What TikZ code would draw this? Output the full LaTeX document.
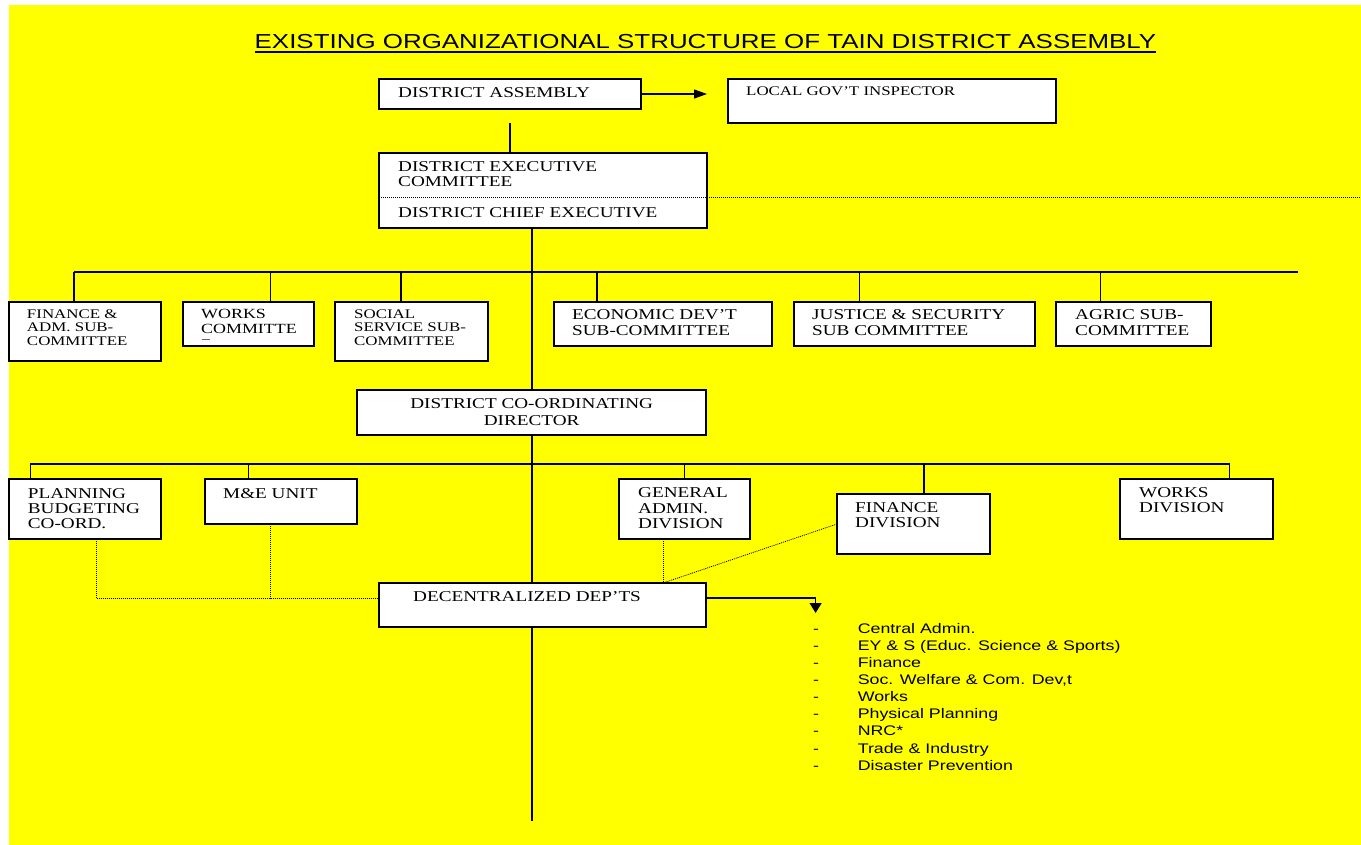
\documentclass[tikz,border=0pt]{standalone}
\usepackage{fontspec}
\setmainfont{Liberation Serif}[FakeStretch=1.28]
\newfontfamily\sansf{Liberation Sans}[FakeStretch=1.28]
\usetikzlibrary{arrows.meta,calc}
\definecolor{bgy}{RGB}{255,255,0}
\newcommand\mybox[5]{\node[box, minimum width={#4pt-#2pt}, minimum height={#5pt-#3pt}] (#1) at (#2,#3) {};}
\begin{document}
\begin{tikzpicture}[x=1pt,y=-1pt,
  box/.style={draw, fill=white, line width=1.3pt, inner sep=0pt, outer sep=0pt, anchor=north west},
  lbl/.style={anchor=base west, inner sep=0pt, align=left},
  big/.style={font=\fontsize{15}{15}\selectfont},
  small/.style={font=\fontsize{13.2}{13.5}\selectfont},
  conn/.style={line width=1.2pt},
  dots/.style={line width=0.8pt, dash pattern=on 1pt off 1pt},
  tipH/.style={-{Triangle[length=13pt,width=9pt]}},
  tipV/.style={-{Triangle[length=10pt,width=12pt]}}]
\useasboundingbox (0,0) rectangle (1361,845);
\fill[bgy] (8.5,5) rectangle (1361,845);
% title
\node[lbl, font=\sansf\fontsize{20.25}{20}\selectfont] (title) at (254.5,49) {EXISTING ORGANIZATIONAL STRUCTURE OF TAIN DISTRICT ASSEMBLY};
\draw[line width=1.3pt] ([yshift=-3pt]title.base west) -- ([yshift=-3pt]title.base east);
% coordinates
\coordinate (trkA) at (532,228);
\coordinate (trkB) at (532,821);
\coordinate (daL) at (510,123);
\coordinate (lgiA) at (707,94);
\coordinate (bus1L) at (74,272);
\coordinate (bus1R) at (1298,272);
\coordinate (bus2L) at (30.4,464);
\coordinate (bus2R) at (1229.5,464);
% main trunk and buses (behind boxes)
\draw[conn] (trkA) -- (trkB);
\draw[conn] (bus1L) -- (bus1R);
\draw[conn] (bus2L) -- (bus2R);
% boxes
\mybox{da}{379}{79}{641}{109}
\mybox{lgi}{728}{79}{1056}{123}
\mybox{dec}{379}{153}{707}{228}
\mybox{fin}{9}{302}{161}{361}
\mybox{wrk}{183}{302}{314}{346}
\mybox{soc}{335}{302}{488}{361}
\mybox{eco}{554}{302}{772}{346}
\mybox{jus}{794}{302}{1035}{346}
\mybox{agr}{1056}{302}{1211}{346}
\mybox{dcd}{357}{390}{706}{435}
\mybox{pln}{9}{479}{161}{539}
\mybox{mne}{205}{479}{357}{524}
\mybox{gad}{619}{479}{750}{539}
\mybox{fdv}{837}{494}{990}{554}
\mybox{wdv}{1120}{479}{1273}{539}
\mybox{dpt}{379}{583}{706}{627}
% dotted divider line across the executive box
\coordinate (divL) at (379,197.3);
\coordinate (divR) at (1361,197.3);
\draw[dots] (divL) -- (divR);
% connectors top
\draw[conn] (daL) -- (daL |- dec.north);
\draw[conn, tipH] (da.east) -- (lgiA);
% drops bus 1
\foreach \xx/\bb in {74/fin, 270.5/wrk, 401/soc, 597/eco, 859.5/jus, 1100.5/agr}
  \draw[conn] (\xx,272) -- (\xx,272 |- \bb.north);
% drops bus 2
\foreach \xx/\bb in {30.4/pln, 248.7/mne, 684.4/gad, 924/fdv, 1229.5/wdv}
  \draw[conn] (\xx,464) -- (\xx,464 |- \bb.north);
% dotted links
\coordinate (dj) at (96,598.3);
\coordinate (mj) at (270,598.3);
\coordinate (gj) at (663,583);
\draw[dots] (dj |- pln.south) -- (dj) -- (mj) -- (mj -| dpt.west);
\draw[dots] (mj |- mne.south) -- (mj);
\draw[dots] (gj |- gad.south) -- (gj);
\draw[dots] (fdv.west) -- (gj);
% arrow to list
\coordinate (la) at (815.6,598);
\coordinate (lb) at (815.6,613);
\draw[conn, tipV] (la -| dpt.east) -- (la) -- (lb);
% texts (anchor = baseline of the last line)
\node[lbl, big] (t-da) at (398,98) {DISTRICT ASSEMBLY};
\node[lbl, small] (t-lgi) at (746,95.7) {LOCAL GOV’T INSPECTOR};
\node[lbl, big] (t-dec) at (398,187) {DISTRICT EXECUTIVE\\COMMITTEE};
\node[lbl, big] (t-dce) at (398,218) {DISTRICT CHIEF EXECUTIVE};
\node[lbl, small] (t-fin) at (26.8,345) {FINANCE \&\\ADM. SUB-\\COMMITTEE};
\node[lbl, font=\fontsize{14}{15}\selectfont] (t-wrk) at (201,334) {WORKS\\COMMITTE};
\draw[line width=0.7pt, black!60] (201.5,339.5) -- (210,339.5);
\node[lbl, small] (t-soc) at (354,345) {SOCIAL\\SERVICE SUB-\\COMMITTEE};
\node[lbl, font=\fontsize{15}{15.7}\selectfont] (t-eco) at (572,335) {ECONOMIC DEV’T\\SUB-COMMITTEE};
\node[lbl, font=\fontsize{15}{15.7}\selectfont] (t-jus) at (812,335) {JUSTICE \& SECURITY\\SUB COMMITTEE};
\node[lbl, font=\fontsize{15}{15.7}\selectfont] (t-agr) at (1075,335) {AGRIC SUB-\\COMMITTEE};
\node[anchor=base, inner sep=0pt, align=center, font=\fontsize{15}{16.7}\selectfont] (t-dcd) at (531.7,425) {DISTRICT CO-ORDINATING\\DIRECTOR};
\node[lbl, big] (t-pln) at (27.7,528.3) {PLANNING\\BUDGETING\\CO-ORD.};
\node[lbl, big] (t-mne) at (223,498.3) {M\&E UNIT};
\node[lbl, font=\fontsize{15}{15.3}\selectfont] (t-gad) at (638,528.3) {GENERAL\\ADMIN.\\DIVISION};
\node[lbl, big] (t-fdv) at (855,527.7) {FINANCE\\DIVISION};
\node[lbl, font=\fontsize{15}{15.4}\selectfont] (t-wdv) at (1139,512.7) {WORKS\\DIVISION};
\node[lbl, big] (t-dpt) at (413,601.7) {DECENTRALIZED DEP’TS};
\node[lbl, font=\sansf\fontsize{13.9}{17.1}\selectfont] (list) at (813,770.1) {%
\makebox[44.6pt][l]{-}Central Admin.\\
\makebox[44.6pt][l]{-}EY \& S (Educ. Science \& Sports)\\
\makebox[44.6pt][l]{-}Finance\\
\makebox[44.6pt][l]{-}Soc. Welfare \& Com. Dev,t\\
\makebox[44.6pt][l]{-}Works\\
\makebox[44.6pt][l]{-}Physical Planning\\
\makebox[44.6pt][l]{-}NRC*\\
\makebox[44.6pt][l]{-}Trade \& Industry\\
\makebox[44.6pt][l]{-}Disaster Prevention};
\end{tikzpicture}
\end{document}
